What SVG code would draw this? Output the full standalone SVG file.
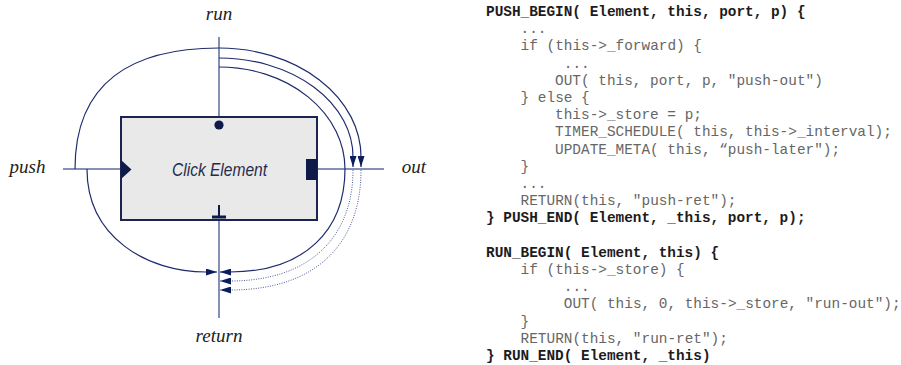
<svg xmlns="http://www.w3.org/2000/svg" width="901" height="365" viewBox="0 0 901 365">
<style>
.axis{stroke:#5d6b9c;stroke-width:1.5;fill:none}
.conn{stroke:#1f2c6c;stroke-width:1.2;fill:none}
.dot{stroke:#4a5a98;stroke-width:1;fill:none;stroke-dasharray:1 1.4}
.lbl{font-family:"Liberation Serif",serif;font-style:italic;font-size:19px;fill:#222;text-anchor:middle}
.code{font-family:"Liberation Mono",monospace;font-size:14.4px;fill:#666}
.code .b{font-weight:bold;fill:#1c1c1c}
.port{fill:#0e1a48}
</style>
<defs>
<marker id="ah" markerUnits="userSpaceOnUse" viewBox="0 0 11 7" markerWidth="11" markerHeight="7" refX="11" refY="3.5" orient="auto">
<path d="M0,0 L11,3.5 L0,7 z" fill="#0b1d5c"/>
</marker>
</defs>
<g id="axes">
<line class="axis" x1="219" y1="37" x2="219" y2="318"/>
<line class="axis" x1="63" y1="169" x2="384" y2="169"/>
</g>
<g id="connectors">
<path class="conn" d="M75,169 C75,82 132,48 219,48 A142,109 0 0 1 361,157 L361,167" marker-end="url(#ah)"/>
<path class="dot" d="M361,170 C361,240 320,290 230,290 L220,290" marker-end="url(#ah)"/>
<path class="conn" d="M219,58 A134,99 0 0 1 353,157 L353,167" marker-end="url(#ah)"/>
<path class="dot" d="M353,170 C353,235 312,281 230,281 L220,281" marker-end="url(#ah)"/>
<path class="conn" d="M219,67 A126,102 0 0 1 345,169 C345,230 305,272 230,272 L220,272" marker-end="url(#ah)"/>
<path class="conn" d="M87,169 C87,238 148,272 206,272 L217,272" marker-end="url(#ah)"/>
</g>
<g id="element">
<rect x="121" y="117" width="196" height="103" fill="#e9e9e9" stroke="#1b2450" stroke-width="2"/>
<circle class="port" cx="219" cy="125" r="4.6"/>
<polygon class="port" points="121,160 131.5,169.5 121,179"/>
<rect class="port" x="306" y="159" width="11" height="21"/>
<rect class="port" x="218" y="205" width="2" height="11"/>
<rect class="port" x="212" y="215.5" width="14" height="3"/>
<text x="219.5" y="175.5" font-family="'Liberation Sans',Arial,sans-serif" font-style="italic" font-size="19" fill="#262c4c" text-anchor="middle" textLength="95" lengthAdjust="spacingAndGlyphs">Click Element</text>
</g>
<g id="run"><text class="lbl" x="219" y="20">run</text></g>
<g id="push"><text class="lbl" x="27.5" y="173">push</text></g>
<g id="out"><text class="lbl" x="414" y="173">out</text></g>
<g id="return"><text class="lbl" x="219" y="342">return</text></g>
<g id="code" class="code">
<text class="b" x="486" y="16">PUSH_BEGIN( Element, this, port, p) {</text>
<text x="520.6" y="33.2">...</text>
<text x="520.6" y="50.4">if (this-&gt;_forward) {</text>
<text x="563.8" y="67.6">...</text>
<text x="555.1" y="84.8">OUT( this, port, p, "push-out")</text>
<text x="520.6" y="102">} else {</text>
<text x="555.1" y="119.2">this-&gt;_store = p;</text>
<text x="555.1" y="136.4">TIMER_SCHEDULE( this, this-&gt;_interval);</text>
<text x="555.1" y="153.6">UPDATE_META( this, “push-later");</text>
<text x="520.6" y="170.8">}</text>
<text x="520.6" y="188">...</text>
<text x="520.6" y="205.2">RETURN(this, "push-ret");</text>
<text class="b" x="486" y="222.4">} PUSH_END( Element, _this, port, p);</text>
<text class="b" x="486" y="256.8">RUN_BEGIN( Element, this) {</text>
<text x="520.6" y="274">if (this-&gt;_store) {</text>
<text x="563.8" y="291.2">...</text>
<text x="563.8" y="308.4">OUT( this, 0, this-&gt;_store, "run-out");</text>
<text x="520.6" y="325.6">}</text>
<text x="520.6" y="342.8">RETURN(this, "run-ret");</text>
<text class="b" x="486" y="360">} RUN_END( Element, _this)</text>
</g>
</svg>
